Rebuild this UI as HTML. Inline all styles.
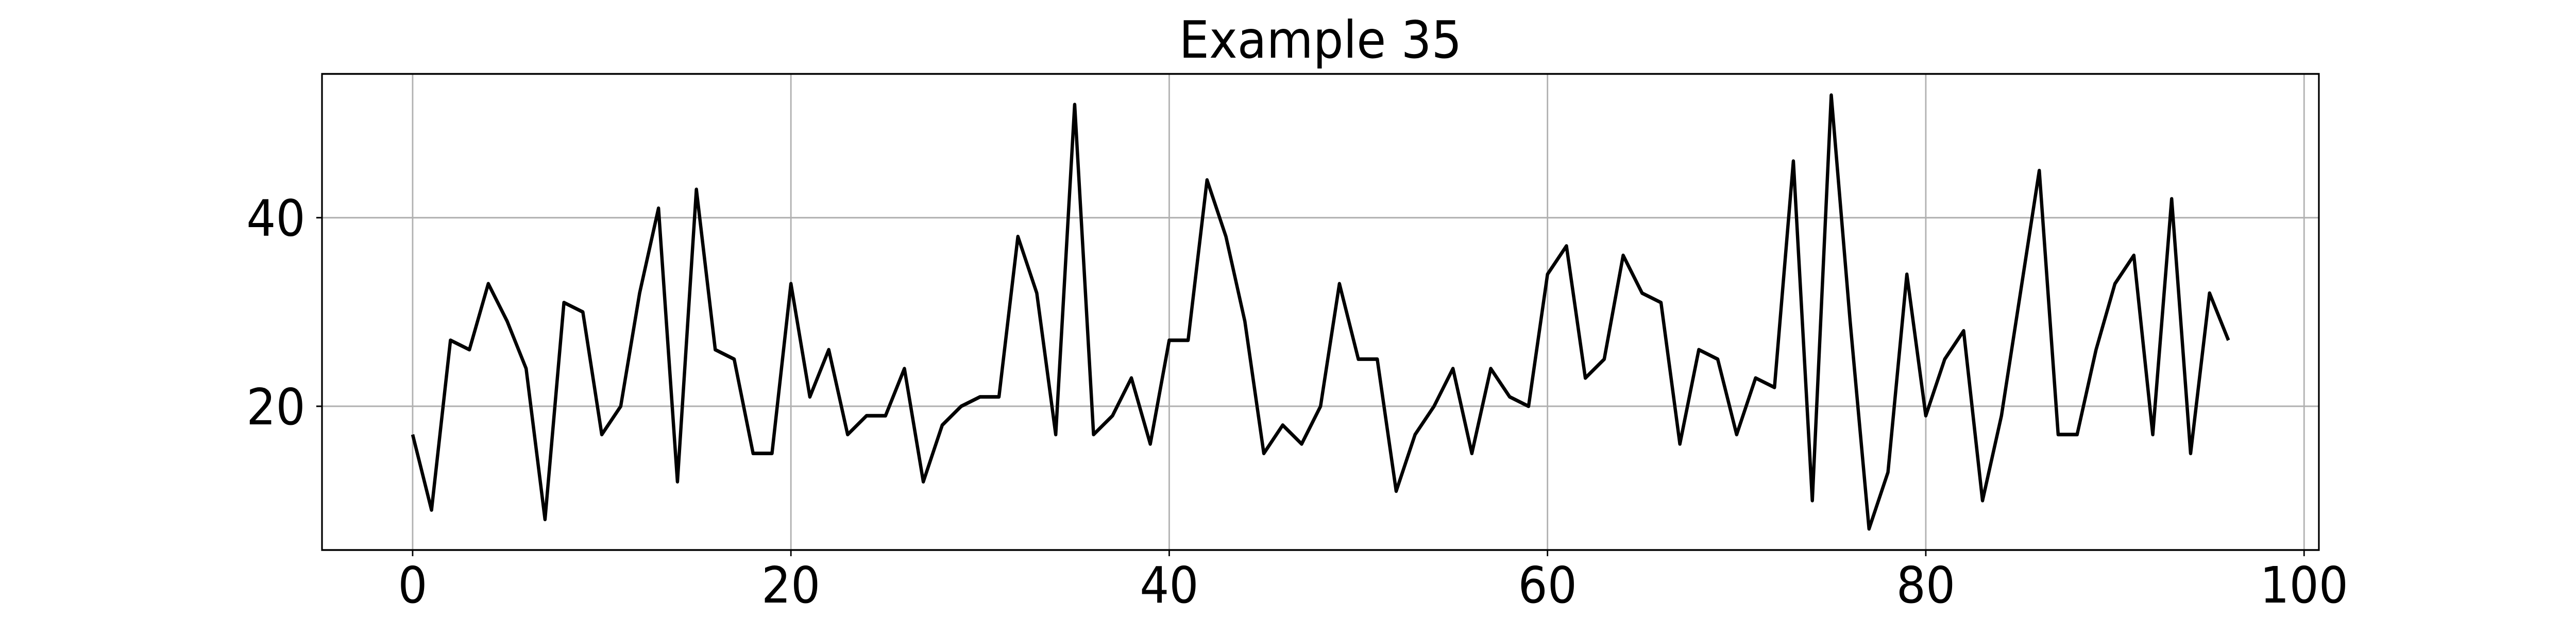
<!DOCTYPE html>
<html><head><meta charset="utf-8"><style>
html,body{margin:0;padding:0;background:#fff;width:100%;height:100%;overflow:hidden;}
svg{display:block;width:100vw;height:100vh;font-family:"DejaVu Sans","Liberation Sans",sans-serif;}
</style></head><body>
<svg id="chart" viewBox="0 0 5400 1200" preserveAspectRatio="none" xmlns="http://www.w3.org/2000/svg">
<rect width="5400" height="1200" fill="#fff"/>
<text x="2768" y="112" font-size="100" text-anchor="middle">Example 35</text>
<g id="grid"></g>
<g id="ticks"></g>
<g id="series"></g>
<rect x="675" y="143.5" width="4186" height="924.5" fill="none" stroke="#000" stroke-width="3.5"/>
</svg>
<script>
const values = [17,9,27,26,33,29,24,8,31,30,17,20,32,41,12,43,26,25,15,15,33,21,26,17,19,19,24,12,18,20,21,21,38,32,17,52,17,19,23,16,27,27,44,38,29,15,18,16,20,33,25,25,11,17,20,24,15,24,21,20,34,37,23,25,36,32,31,16,26,25,17,23,22,46,10,53,29,7,13,34,19,25,28,10,19,32,45,17,17,26,33,36,17,42,15,32,27];
const xTicks = [0,20,40,60,80,100];
const yTicks = [20,40];
const NS = "http://www.w3.org/2000/svg";
function xs(v){ return 865 + v * 39.65; }
function ys(v){ return 788.9 - (v - 20) * 18.31; }
const grid = document.getElementById('grid');
const ticks = document.getElementById('ticks');
const series = document.getElementById('series');
function mk(tag, attrs, parent){ const e=document.createElementNS(NS,tag); for(const k in attrs) e.setAttribute(k, attrs[k]); parent.appendChild(e); return e; }
xTicks.forEach(t => {
  const x = xs(t);
  const g = mk('line',{x1:x,x2:x,y1:143.5,y2:1068,stroke:'#b0b0b0','stroke-width':3},grid);
  
  
  const tk = mk('line',{x1:x,x2:x,y1:1068,y2:1080,stroke:'#000','stroke-width':3},ticks);
  
  
  const lb = mk('text',{x:x,y:1170,'font-size':97,'text-anchor':'middle'},ticks);
  lb.textContent = t;
  
  
});
yTicks.forEach(t => {
  const y = ys(t);
  const g = mk('line',{x1:675,x2:4861,y1:y,y2:y,stroke:'#b0b0b0','stroke-width':3},grid);
  
  
  const tk = mk('line',{x1:663,x2:675,y1:y,y2:y,stroke:'#000','stroke-width':3},ticks);
  
  
  const lb = mk('text',{x:640,y:y+35,'font-size':97,'text-anchor':'end'},ticks);
  lb.textContent = t;
  
  
});
const pts = values.map((v,i) => xs(i).toFixed(1)+','+ys(v).toFixed(1)).join(' ');
const line = mk('polyline',{points:pts,fill:'none',stroke:'#000','stroke-width':7,'stroke-linejoin':'round'},series);


</script>
</body></html>
